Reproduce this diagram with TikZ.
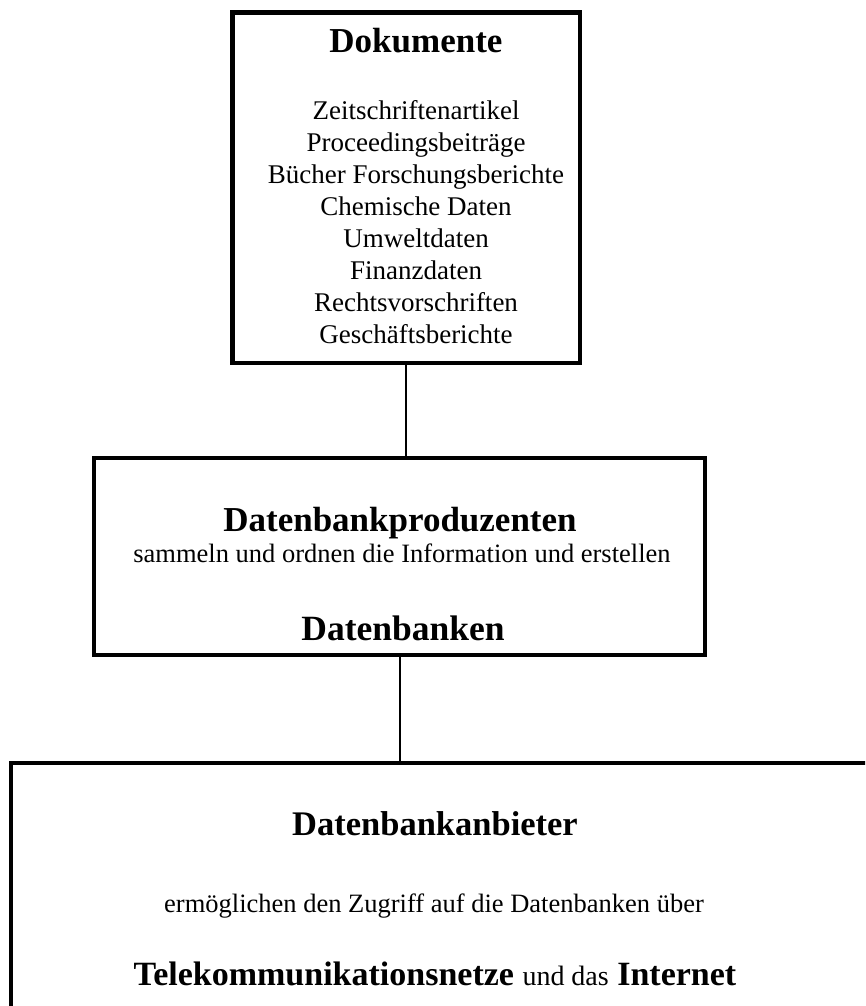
\documentclass[tikz,border=0pt]{standalone}
\usepackage{fontspec}
\setmainfont{Liberation Serif}
\newcommand\fsz[1]{\fontsize{#1}{#1}\selectfont}
\begin{document}
\begin{tikzpicture}[x=1pt,y=-1pt,
  box/.style={draw, line width=4.5pt, rectangle, inner sep=0pt, outer sep=0pt},
  conn/.style={line width=2pt},
  txt/.style={anchor=base, inner sep=0pt, outer sep=0pt}]
\path[use as bounding box] (0,0) rectangle (865,1006);
\clip (0,0) rectangle (865,1006);
% boxes
\node[box, minimum width=347.5pt, minimum height=350.5pt] (top) at (406.25,187.75) {};
\node[box, minimum width=611pt, minimum height=197pt] (mid) at (399.5,556.5) {};
\node[box, minimum width=900pt, minimum height=400pt] (bot) at (461,963) {};
% connectors
\draw[conn] (top.south) -- (top.south |- mid.north);
\draw[conn] (mid.south) -- (mid.south |- bot.north);
% top box text
\node[txt, font=\fsz{35}\bfseries] (tTitle) at (416,53) {Dokumente};
\foreach \t [count=\i] in {Zeitschriftenartikel, Proceedingsbeiträge, Bücher Forschungsberichte, Chemische Daten, Umweltdaten, Finanzdaten, Rechtsvorschriften, Geschäftsberichte}
  \node[txt, font=\fsz{27}] (item\i) at (416,{120+31.86*(\i-1)}) {\t};
% middle box text
\node[txt, font=\fsz{35}\bfseries] (mTitle) at (400,531) {Datenbankproduzenten};
\node[txt, font=\fsz{26.5}] (mSub) at (402,562) {sammeln und ordnen die Information und erstellen};
\node[txt, font=\fsz{35.5}\bfseries] (mBottom) at (403,640) {Datenbanken};
% bottom box text
\node[txt, font=\fsz{34.5}\bfseries] (bTitle) at (435,835) {Datenbankanbieter};
\node[txt, font=\fsz{26.5}] (bSub) at (434,912) {ermöglichen den Zugriff auf die Datenbanken über};
\node[txt, font=\fsz{34}] (bLast) at (435,985) {\textbf{Telekommunikationsnetze} {\fsz{28}und das} \textbf{Internet}};
\end{tikzpicture}
\end{document}
